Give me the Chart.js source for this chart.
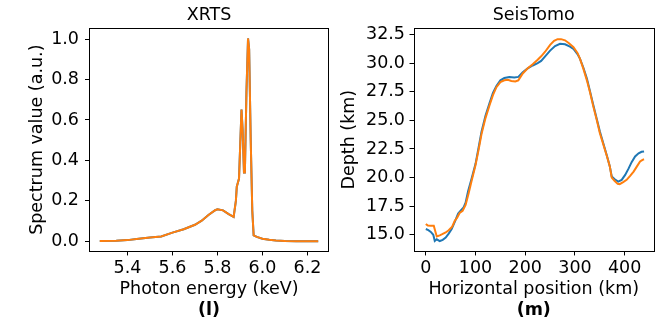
<!DOCTYPE html>
<html>
<head>
<meta charset="utf-8">
<script src="https://cdn.jsdelivr.net/npm/chart.js@4"></script>
<style>
  body { margin: 0; background: #fff; }
  #wrap { position: relative; width: 667px; height: 322px; }
  canvas { position: absolute; top: 0; }
  #xrts { left: 0; }
  #seis { left: 333px; }
</style>
</head>
<body>
<div id="wrap">
  <canvas id="xrts" width="333" height="322"></canvas>
  <canvas id="seis" width="334" height="322"></canvas>
</div>
<script>
// XRTS spectrum (photon energy in keV, spectrum value a.u.)
const xrtsEnergy = [5.277, 5.35, 5.40, 5.45, 5.50, 5.55, 5.60, 5.65, 5.70, 5.73, 5.76, 5.79, 5.80, 5.825, 5.85, 5.872,
  5.882, 5.886, 5.896, 5.902, 5.907, 5.912, 5.918, 5.922, 5.929, 5.936, 5.941, 5.948, 5.955, 5.961, 5.975,
  6.0, 6.03, 6.06, 6.1, 6.15, 6.2, 6.248];
const xrtsTrue = [0.002, 0.003, 0.006, 0.013, 0.019, 0.024, 0.043, 0.060, 0.082, 0.102, 0.130, 0.154, 0.158, 0.153, 0.135, 0.121,
  0.200, 0.270, 0.310, 0.500, 0.652, 0.550, 0.340, 0.340, 0.740, 1.003, 0.950, 0.500, 0.150, 0.030, 0.022,
  0.013, 0.008, 0.004, 0.002, 0.001, 0.001, 0.001];
const xrtsPred = xrtsTrue.slice();
const xrtsTicks = [5.4, 5.6, 5.8, 6.0, 6.2];
const xrtsYTicks = [0.0, 0.2, 0.4, 0.6, 0.8, 1.0];

// SeisTomo depth profiles (horizontal position km, depth km)
const seisPosA = [0, 5, 10, 15, 18, 22, 28, 34, 40, 46, 52, 58, 65, 70, 76, 80, 85, 92, 100, 106, 112, 120, 128, 135, 142,
  150, 158, 168, 178, 186, 195, 205, 215, 225, 232, 240, 250, 260, 270, 280, 290, 297, 305, 310, 317, 324, 330,
  337, 344, 350, 357, 364, 370, 374, 380, 387, 394, 401, 408, 414, 421, 428, 434, 439];
const seisDepthA = [15.5, 15.4, 15.25, 15.0, 14.45, 14.6, 14.45, 14.55, 14.75, 15.1, 15.5, 16.1, 16.85, 17.1, 17.4, 17.8,
  18.8, 19.9, 21.2, 22.6, 24.0, 25.4, 26.5, 27.4, 28.0, 28.5, 28.7, 28.8, 28.75, 28.8, 29.2, 29.55, 29.8, 30.0, 30.2,
  30.6, 31.1, 31.5, 31.7, 31.65, 31.45, 31.25, 30.8, 30.4, 29.6, 28.66, 27.6, 26.33, 25.1, 24.05, 23.0, 21.95, 21.0,
  20.1, 19.85, 19.65, 19.8, 20.23, 20.8, 21.35, 21.85, 22.12, 22.25, 22.28];
const seisPosB = [0, 4, 10, 16, 19, 22, 28, 33, 40, 46, 53, 58, 63, 68, 74, 80, 86, 92, 100, 106, 112, 120, 128, 135, 142,
  150, 158, 165, 172, 180, 186, 195, 205, 215, 225, 232, 240, 250, 258, 265, 272, 280, 288, 297, 305, 310, 317, 324,
  330, 337, 344, 350, 357, 364, 370, 374, 380, 386, 390, 397, 404, 411, 418, 425, 431, 436, 439];
const seisDepthB = [15.95, 15.8, 15.78, 15.78, 15.3, 14.85, 14.95, 15.05, 15.2, 15.4, 15.7, 16.2, 16.5, 16.9, 17.1, 17.6,
  18.6, 19.7, 21.1, 22.4, 23.8, 25.2, 26.3, 27.2, 27.9, 28.35, 28.5, 28.55, 28.45, 28.4, 28.5, 29.1, 29.55, 29.9, 30.3,
  30.6, 31.0, 31.6, 31.95, 32.1, 32.1, 32.0, 31.75, 31.4, 30.9, 30.4, 29.5, 28.5, 27.5, 26.2, 25.0, 23.9, 22.9, 21.9,
  21.0, 20.0, 19.7, 19.45, 19.42, 19.6, 19.8, 20.15, 20.52, 21.0, 21.4, 21.55, 21.6];
const seisXTicks = [0, 100, 200, 300, 400];
const seisYTicks = [15.0, 17.5, 20.0, 22.5, 25.0, 27.5, 30.0, 32.5];

Chart.defaults.font.family = "'DejaVu Sans', sans-serif";
Chart.defaults.font.size = 17.5;
Chart.defaults.color = '#000';

const BLUE = '#1f77b4';
const ORANGE = '#ff7f0e';

function pts(xs, ys) {
  return xs.map((x, i) => ({ x: x, y: ys[i] }));
}

// box around the plot area, like matplotlib spines
const frame = {
  id: 'frame',
  afterDraw(chart) {
    const a = chart.chartArea;
    const ctx = chart.ctx;
    ctx.save();
    ctx.strokeStyle = '#000';
    ctx.lineWidth = 1;
    ctx.strokeRect(Math.round(a.left) + 0.5, Math.round(a.top) + 0.5,
      Math.round(a.right - a.left) - 1, Math.round(a.bottom - a.top) - 1);
    ctx.restore();
  }
};

function makeChart(id, o) {
  return new Chart(document.getElementById(id), {
    type: 'line',
    data: {
      datasets: [
        { data: pts(o.xa, o.ya), borderColor: BLUE, borderWidth: 2, pointRadius: 0, tension: 0, order: 1 },
        { data: pts(o.xb, o.yb), borderColor: ORANGE, borderWidth: 2, pointRadius: 0, tension: 0, order: 0 }
      ]
    },
    options: {
      responsive: false,
      animation: false,
      events: [],
      layout: { padding: { left: 0, right: o.padRight, top: 0, bottom: 0 } },
      plugins: {
        legend: { display: false },
        tooltip: { enabled: false },
        title: {
          display: true, text: o.title, fullSize: false,
          font: { size: 17.5, weight: 'normal', lineHeight: 1.1 }, padding: { top: 6.2, bottom: 2.5 }
        },
        subtitle: {
          display: true, text: o.tag, position: 'bottom', fullSize: false,
          font: { size: 17.5, weight: 'bold', lineHeight: 1.1 }, padding: { top: 0.6, bottom: 2.1 }
        }
      },
      scales: {
        x: {
          type: 'linear', min: o.xmin, max: o.xmax,
          afterBuildTicks: s => { s.ticks = o.xticks.map(v => ({ value: v })); },
          afterFit: s => { s.height = 48.6; },
          ticks: { padding: 2.5, maxRotation: 0, callback: o.xfmt },
          grid: { drawOnChartArea: false, color: '#000', tickLength: 4 },
          border: { display: false },
          title: { display: true, text: o.xlabel, padding: { top: 0, bottom: 0 } }
        },
        y: {
          type: 'linear', min: o.ymin, max: o.ymax,
          afterBuildTicks: s => { s.ticks = o.yticks.map(v => ({ value: v })); },
          afterFit: s => { s.width = o.yWidth; },
          ticks: { padding: o.yPad, callback: v => v.toFixed(1) },
          grid: { drawOnChartArea: false, color: '#000', tickLength: 4 },
          border: { display: false },
          title: { display: true, text: o.ylabel, padding: { top: o.yTitlePad, bottom: 0 } }
        }
      }
    },
    plugins: [frame]
  });
}

makeChart('xrts', {
  title: 'XRTS', tag: '(l)',
  xa: xrtsEnergy, ya: xrtsTrue, xb: xrtsEnergy, yb: xrtsPred,
  xmin: 5.229, xmax: 6.296, ymin: -0.05, ymax: 1.055,
  xticks: xrtsTicks, yticks: xrtsYTicks, xfmt: v => v.toFixed(1),
  xlabel: 'Photon energy (keV)', ylabel: 'Spectrum value (a.u.)',
  yWidth: 89, yPad: 6, yTitlePad: 27.3, padRight: 4
});

makeChart('seis', {
  title: 'SeisTomo', tag: '(m)',
  xa: seisPosA, ya: seisDepthA, xb: seisPosB, yb: seisDepthB,
  xmin: -24.8, xmax: 459, ymin: 13.54, ymax: 33.08,
  xticks: seisXTicks, yticks: seisYTicks, xfmt: v => String(v),
  xlabel: 'Horizontal position (km)', ylabel: 'Depth (km)',
  yWidth: 80.5, yPad: 4.5, yTitlePad: 5.6, padRight: 13
});
</script>
</body>
</html>
